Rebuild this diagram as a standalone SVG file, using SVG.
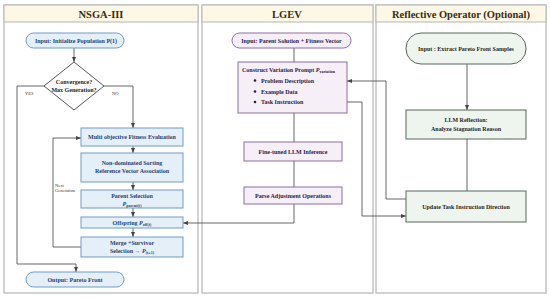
<svg xmlns="http://www.w3.org/2000/svg" width="550" height="298" viewBox="0 0 550 298">
<defs>
<marker id="ah" markerUnits="userSpaceOnUse" markerWidth="5" markerHeight="5" viewBox="0 0 10 10" refX="10" refY="5" orient="auto"><path d="M0,1 L10,5 L0,9 z" fill="#444"/></marker>
</defs>
<style>
.panel{fill:#fff;stroke:#b5b5b5;stroke-width:1.2}
.hdr{fill:#fdf8e6;stroke:#b5b5b5;stroke-width:1}
.ht{font-family:"Liberation Serif",serif;font-weight:bold;font-size:10.5px;text-anchor:middle;fill:#3b2a10}
.b1{fill:#e5eff8;stroke:#6f9bc6;stroke-width:1}
.b2{fill:#f7eff8;stroke:#8c6f9f;stroke-width:1}
.b3{fill:#eef5ef;stroke:#5a665a;stroke-width:1}
.t{font-family:"Liberation Serif",serif;font-weight:bold;font-size:6px;text-anchor:middle}
.t1{fill:#1f3f74}
.t2{fill:#2e1a47}
.t3{fill:#1e261e}
.c{fill:none;stroke:#555;stroke-width:0.9}
.s{font-family:"Liberation Serif",serif;font-size:4.5px;fill:#333}
</style>
<g id="panels">
<rect class="panel" x="4" y="5" width="194" height="288"/>
<rect class="hdr" x="4" y="5" width="194" height="17"/>
<text class="ht" x="101" y="17.5" font-family="Liberation Serif, serif">NSGA-III</text>
<rect class="panel" x="202" y="5" width="171" height="288"/>
<rect class="hdr" x="202" y="5" width="171" height="17"/>
<text class="ht" x="287" y="17.5" font-family="Liberation Serif, serif">LGEV</text>
<rect class="panel" x="376" y="5" width="170" height="288"/>
<rect class="hdr" x="376" y="5" width="170" height="17"/>
<text class="ht" x="461" y="17.5" font-family="Liberation Serif, serif">Reflective Operator (Optional)</text>
</g>
<g id="connectors">
<path class="c" d="M74,48 V62" marker-end="url(#ah)"/>
<path class="c" d="M44,86 H17 V264 H76 V272" marker-end="url(#ah)"/>
<path class="c" d="M104,86 H133 V128" marker-end="url(#ah)"/>
<path class="c" d="M133,146 V153" marker-end="url(#ah)"/>
<path class="c" d="M133,182 V190" marker-end="url(#ah)"/>
<path class="c" d="M133,208 V217" marker-end="url(#ah)"/>
<path class="c" d="M133,228 V237" marker-end="url(#ah)"/>
<path class="c" d="M81,247 H53 V138 H81" marker-end="url(#ah)"/>
<path class="c" d="M294,48 V62"/>
<path class="c" d="M294,113 V142"/>
<path class="c" d="M294,161 V187"/>
<path class="c" d="M294,204 V223 H183" marker-end="url(#ah)"/>
<path class="c" d="M467,64 V110" marker-end="url(#ah)"/>
<path class="c" d="M467,139 V191"/>
<path class="c" d="M406,199 H386 V81 H347" marker-end="url(#ah)"/>
<path class="c" d="M347,102 H362 V216 H406" marker-end="url(#ah)"/>
<text class="s" x="25" y="95">YES</text>
<text class="s" x="112" y="95">NO</text>
<text class="s" x="55" y="187">Next</text>
<text class="s" x="55" y="192">Generation</text>
</g>
<g id="n-input">
<rect class="b1" x="26" y="33" width="98" height="15" rx="7.5"/>
<text class="t t1" x="76" y="42.5" font-size="6.4">Input:  Initialize Population P(1)</text>
</g>
<g id="n-convergence">
<polygon points="74,62 104,86 74,110 44,86" fill="#fff" stroke="#555" stroke-width="1"/>
<text class="t" fill="#222" x="74" y="84">Convergence?</text>
<text class="t" fill="#222" x="74" y="91.5">Max Generation?</text>
</g>
<g id="n-fitness">
<rect class="b1" x="81" y="128" width="102" height="18"/>
<text class="t t1" x="132" y="139">Multi objective Fitness Evaluation</text>
</g>
<g id="n-sorting">
<rect class="b1" x="81" y="153" width="102" height="29"/>
<text class="t t1" x="132" y="165">Non-dominated Sorting</text>
<text class="t t1" x="132" y="173">Reference Vector Association</text>
</g>
<g id="n-parent">
<rect class="b1" x="81" y="190" width="102" height="18"/>
<text class="t t1" x="132" y="197.5">Parent Selection</text>
<text class="t t1" x="132" y="205.5"><tspan font-style="italic">P</tspan><tspan font-size="4" dy="1">parent(t)</tspan></text>
</g>
<g id="n-offspring">
<rect class="b1" x="81" y="217" width="102" height="11"/>
<text class="t t1" x="132" y="224.5">Offspring <tspan font-style="italic">P</tspan><tspan font-size="4" dy="1">off(t)</tspan></text>
</g>
<g id="n-merge">
<rect class="b1" x="81" y="237" width="102" height="20"/>
<text class="t t1" x="132" y="245">Merge +Survivor</text>
<text class="t t1" x="132" y="253">Selection → <tspan font-style="italic">P</tspan><tspan font-size="4" dy="1">(t+1)</tspan></text>
</g>
<g id="n-output">
<rect class="b1" x="26" y="272" width="98" height="15" rx="7.5"/>
<text class="t t1" x="75" y="281.5" font-size="6.4">Output:  Pareto Front</text>
</g>
<g id="n-lgev-input">
<rect class="b2" x="232" y="33" width="119" height="15" rx="7.5"/>
<text class="t t2" x="291.5" y="42.5">Input:  Parent Solution + Fitness Vector</text>
</g>
<g id="n-construct">
<rect class="b2" x="238" y="62" width="109" height="51"/>
<text class="t t2" x="242" y="72" style="text-anchor:start">Construct Variation Prompt <tspan font-style="italic">P</tspan><tspan font-size="4" dy="1">variation</tspan></text>
<circle cx="255" cy="80.5" r="1.3" fill="#2e1a47"/>
<circle cx="255" cy="91.5" r="1.3" fill="#2e1a47"/>
<circle cx="255" cy="102" r="1.3" fill="#2e1a47"/>
<text class="t t2" x="261" y="82.5" style="text-anchor:start">Problem Description</text>
<text class="t t2" x="261" y="93.5" style="text-anchor:start">Example Data</text>
<text class="t t2" x="261" y="104" style="text-anchor:start">Task Instruction</text>
</g>
<g id="n-llm">
<rect class="b2" x="244" y="142" width="98" height="19"/>
<text class="t t2" x="293" y="153.5">Fine-tuned LLM Inference</text>
</g>
<g id="n-parse">
<rect class="b2" x="244" y="187" width="98" height="17"/>
<text class="t t2" x="293" y="197.5">Parse Adjustment Operations</text>
</g>
<g id="n-extract">
<rect class="b3" x="406" y="33" width="120" height="31" rx="15"/>
<text class="t t3" x="466" y="50.5">Input : Extract Pareto Front Samples</text>
</g>
<g id="n-reflection">
<rect class="b3" x="406" y="110" width="120" height="29"/>
<text class="t t3" x="466" y="122">LLM Reflection:</text>
<text class="t t3" x="466" y="131">Analyze Stagnation Reason</text>
</g>
<g id="n-update">
<rect class="b3" x="406" y="191" width="120" height="31"/>
<text class="t t3" x="466" y="208.5">Update Task Instruction Direction</text>
</g>
</svg>
